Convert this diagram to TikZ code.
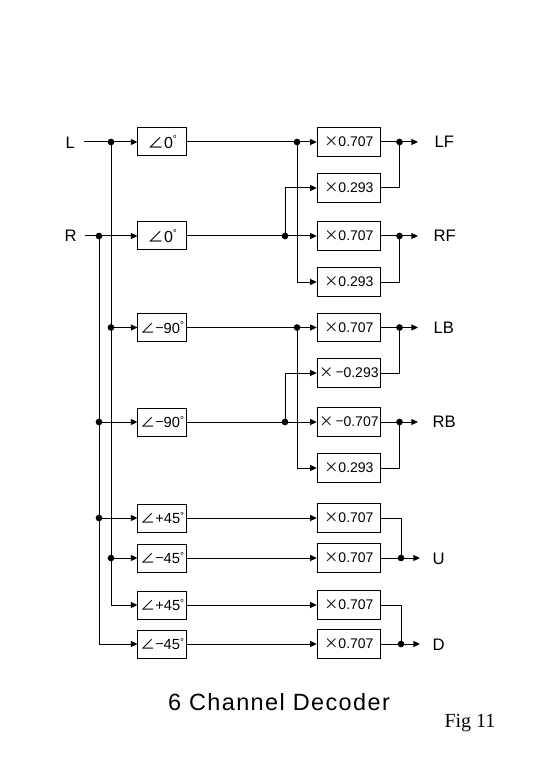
\documentclass[tikz,border=0pt]{standalone}
\usepackage{fontspec}
\setmainfont{Liberation Sans}
\newfontfamily\cjkf{Noto Sans CJK JP}[Scale=1]
\newfontfamily\serf{Liberation Serif}
\newfontfamily\ttl{Liberation Sans}[LetterSpace=6]
\usetikzlibrary{arrows.meta,calc}
\newcommand{\ang}{{\cjkf ∠}}
\newcommand{\mlt}{{\cjkf ×}}
\newcommand{\mns}{{\cjkf −}}
\newcommand{\phs}[1]{\ang\kern0.3pt#1\raisebox{0.62ex}{\fontsize{7.5}{7.5}\selectfont °}}
\tikzset{
  every path/.style={line width=0.75pt},
  pbox/.style={draw,inner sep=0pt,minimum width=36.4pt,minimum height=21pt,font=\fontsize{12}{12}\selectfont},
  gbox/.style={draw,inner sep=0pt,minimum width=47.6pt,minimum height=21.4pt,font=\fontsize{10.5}{10.5}\selectfont},
  dotj/.style={circle,fill=black,inner sep=0pt,minimum size=5pt},
  sig/.style={-{Triangle[length=5pt,width=4.5pt]}},
  lab/.style={inner sep=0pt,font=\fontsize{12.5}{12.5}\selectfont,anchor=west}
}
\begin{document}
\begin{tikzpicture}[x=0.75pt,y=-0.75pt]
\useasboundingbox (0,0) rectangle (540,780);
% phase boxes
\node[pbox] (p1) at (162.25,142) {\phs{0}};
\node[pbox] (p2) at (162.25,236) {\phs{0}};
\node[pbox,font=\fontsize{11}{11}\selectfont] (p3) at (162.25,327.5) {\phs{\mns 90}};
\node[pbox,font=\fontsize{11}{11}\selectfont] (p4) at (162.25,422) {\phs{\mns 90}};
\node[pbox,font=\fontsize{11}{11}\selectfont] (p5) at (162.25,518) {\phs{+45}};
\node[pbox,font=\fontsize{11}{11}\selectfont] (p6) at (162.25,558) {\phs{\mns 45}};
\node[pbox,font=\fontsize{11}{11}\selectfont] (p7) at (162.25,605) {\phs{+45}};
\node[pbox,font=\fontsize{11}{11}\selectfont] (p8) at (162.25,644) {\phs{\mns 45}};
% gain boxes
\node[gbox] (g1) at (349,142) {\mlt 0.707};
\node[gbox] (g2) at (349,188) {\mlt 0.293};
\node[gbox] (g3) at (349,236) {\mlt 0.707};
\node[gbox] (g4) at (349,282) {\mlt 0.293};
\node[gbox] (g5) at (349,327.5) {\mlt 0.707};
\node[gbox] (g6) at (349,373) {\mlt\,\mns 0.293};
\node[gbox] (g7) at (349,422) {\mlt\,\mns 0.707};
\node[gbox] (g8) at (349,468) {\mlt 0.293};
\node[gbox] (g9) at (349,518) {\mlt 0.707};
\node[gbox] (g10) at (349,558) {\mlt 0.707};
\node[gbox] (g11) at (349,605) {\mlt 0.707};
\node[gbox] (g12) at (349,644) {\mlt 0.707};
% labels
\node[lab] (iL) at (65,143) {L};
\node[lab] (iR) at (64,236) {R};
\node[lab] (oLF) at (434,142) {LF};
\node[lab] (oRF) at (433,236) {RF};
\node[lab] (oLB) at (433,328) {LB};
\node[lab] (oRB) at (432,422) {RB};
\node[lab] (oU) at (432,559) {U};
\node[lab] (oD) at (432,645) {D};
% input junctions
\node[dotj] (jL1) at (111,142) {};
\node[dotj] (jL2) at (111,327.5) {};
\node[dotj] (jL3) at (111,558) {};
\coordinate (jL4) at (111,605);
\node[dotj] (jR1) at (99,236) {};
\node[dotj] (jR2) at (99,422) {};
\node[dotj] (jR3) at (99,518) {};
\coordinate (jR4) at (99,644);
\coordinate (sL) at (84,142);
\coordinate (sR) at (85,236);
% input wiring
\draw (sL) -- (jL1.center);
\draw (sR) -- (jR1.center);
\draw (jL1.center) -- (jL4);
\draw (jR1.center) -- (jR4);
\draw[sig] (jL1.center) -- (p1.west);
\draw[sig] (jR1.center) -- (p2.west);
\draw[sig] (jL2.center) -- (p3.west);
\draw[sig] (jR2.center) -- (p4.west);
\draw[sig] (jR3.center) -- (p5.west);
\draw[sig] (jL3.center) -- (p6.west);
\draw[sig] (jL4) -- (p7.west);
\draw[sig] (jR4) -- (p8.west);
% matrix junctions
\node[dotj] (m1) at (297,142) {};
\node[dotj] (m2) at (285,236) {};
\node[dotj] (m3) at (297,327.5) {};
\node[dotj] (m4) at (285,422) {};
\coordinate (c2) at (285,188);
\coordinate (c4) at (297,282);
\coordinate (c6) at (285,373);
\coordinate (c8) at (297,468);
\draw (p1.east) -- (m1.center);
\draw (p2.east) -- (m2.center);
\draw (p3.east) -- (m3.center);
\draw (p4.east) -- (m4.center);
\draw[sig] (m1.center) -- (g1.west);
\draw[sig] (m2.center) -- (g3.west);
\draw[sig] (m3.center) -- (g5.west);
\draw[sig] (m4.center) -- (g7.west);
\draw[sig] (m1.center) -- (c4) -- (g4.west);
\draw[sig] (m2.center) -- (c2) -- (g2.west);
\draw[sig] (m3.center) -- (c8) -- (g8.west);
\draw[sig] (m4.center) -- (c6) -- (g6.west);
\draw[sig] (p5.east) -- (g9.west);
\draw[sig] (p6.east) -- (g10.west);
\draw[sig] (p7.east) -- (g11.west);
\draw[sig] (p8.east) -- (g12.west);
% output junctions
\node[dotj] (o1) at (399.5,142) {};
\node[dotj] (o2) at (399.5,236) {};
\node[dotj] (o3) at (399.5,327.5) {};
\node[dotj] (o4) at (399.5,422) {};
\node[dotj] (o5) at (401,558) {};
\node[dotj] (o6) at (401,644) {};
\coordinate (e1) at (418,142);
\coordinate (e2) at (418,236);
\coordinate (e3) at (418,327.5);
\coordinate (e4) at (418,422);
\coordinate (e5) at (420,558);
\coordinate (e6) at (420,644);
\draw (g1.east) -- (o1.center);
\draw (g3.east) -- (o2.center);
\draw (g5.east) -- (o3.center);
\draw (g7.east) -- (o4.center);
\draw (g10.east) -- (o5.center);
\draw (g12.east) -- (o6.center);
\draw (g2.east) -| (o1.center);
\draw (g4.east) -| (o2.center);
\draw (g6.east) -| (o3.center);
\draw (g8.east) -| (o4.center);
\draw (g9.east) -| (o5.center);
\draw (g11.east) -| (o6.center);
\draw[sig] (o1.center) -- (e1);
\draw[sig] (o2.center) -- (e2);
\draw[sig] (o3.center) -- (e3);
\draw[sig] (o4.center) -- (e4);
\draw[sig] (o5.center) -- (e5);
\draw[sig] (o6.center) -- (e6);
% captions
\node[inner sep=0pt,font=\ttl\fontsize{17.6}{17.6}\selectfont] (title) at (279,702) {6 Channel Decoder};
\node[inner sep=0pt,font=\serf\fontsize{15}{15}\selectfont] (fig) at (470,723) {Fig 11};
\end{tikzpicture}
\end{document}
